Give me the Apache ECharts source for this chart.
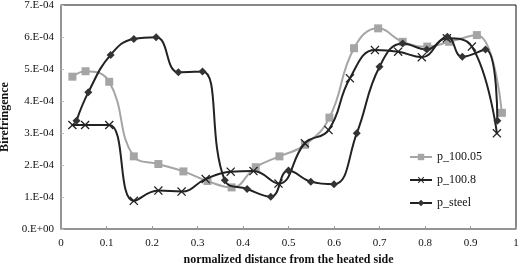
<!DOCTYPE html>
<html><head><meta charset="utf-8">
<script src="https://cdn.jsdelivr.net/npm/echarts@6/dist/echarts.min.js"></script>
<style>html,body{margin:0;padding:0;background:#fff}#c{width:522px;height:269px}</style>
</head><body><div id="c"></div>
<script>
const seriesNames = ['p_100.05', 'p_100.8', 'p_steel'];
const p100_05 = [[0.025,4.76],[0.054,4.93],[0.106,4.60],[0.160,2.27],[0.214,2.03],[0.269,1.80],[0.322,1.50],[0.375,1.30],[0.428,1.93],[0.480,2.27],[0.536,2.63],[0.590,3.48],[0.644,5.65],[0.697,6.27],[0.751,5.85],[0.805,5.70],[0.853,5.85],[0.914,6.06],[0.969,3.63]];
const p100_8 = [[0.025,3.25],[0.053,3.25],[0.106,3.25],[0.160,0.88],[0.214,1.20],[0.265,1.17],[0.318,1.56],[0.373,1.79],[0.423,1.81],[0.478,1.42],[0.536,2.68],[0.588,3.09],[0.635,4.71],[0.690,5.59],[0.741,5.54],[0.793,5.37],[0.848,5.96],[0.903,5.70],[0.958,2.99]];
const pSteel = [[0.034,3.38],[0.060,4.27],[0.109,5.44],[0.160,5.94],[0.209,5.99],[0.258,4.90],[0.311,4.92],[0.360,1.52],[0.409,1.25],[0.461,1.01],[0.500,1.83],[0.549,1.48],[0.600,1.40],[0.650,2.99],[0.700,5.07],[0.751,5.80],[0.804,5.61],[0.849,6.01],[0.882,5.38],[0.933,5.61],[0.959,3.38]];
const yScale = 1e-4;
const xTitle = 'normalized distance from the heated side';
const yTitle = 'Birefringence';

const toPts = a => a.map(p => [p[0], p[1] * yScale]);
const xMark = 'path://M0,1L1,0L5,4L9,0L10,1L6,5L10,9L9,10L5,6L1,10L0,9L4,5Z';
const serif = 'Liberation Serif';
const chart = echarts.init(document.getElementById('c'), null, {renderer: 'canvas'});
chart.setOption({
  animation: false,
  backgroundColor: '#fff',
  grid: {left: 61, right: 6, top: 5, bottom: 40, outerBoundsMode: 'none', containLabel: false,
         show: true, borderColor: '#111', borderWidth: 1, backgroundColor: 'transparent'},
  legend: {
    orient: 'vertical', left: 404, top: 146, itemGap: 11, itemWidth: 22, itemHeight: 8,
    textStyle: {fontFamily: serif, fontSize: 12, color: '#111'},
    data: seriesNames
  },
  xAxis: {
    type: 'value', min: 0, max: 1, interval: 0.1,
    name: xTitle, nameLocation: 'middle', nameGap: 25,
    nameTextStyle: {fontFamily: serif, fontWeight: 'bold', fontSize: 12, color: '#111'},
    axisLine: {lineStyle: {color: '#999', width: 1.5}},
    axisTick: {inside: true, length: 3, lineStyle: {color: '#999'}},
    axisLabel: {fontFamily: serif, fontSize: 11, color: '#111', margin: 9, formatter: v => (Math.round(v*10)/10).toString()},
    splitLine: {show: false}
  },
  yAxis: {
    type: 'value', min: 0, max: 7e-4, interval: 1e-4,
    name: yTitle, nameLocation: 'middle', nameGap: 44,
    nameTextStyle: {fontFamily: serif, fontWeight: 'bold', fontSize: 12, color: '#111'},
    axisLine: {show: true, lineStyle: {color: '#999', width: 1.5}},
    axisTick: {show: true, inside: true, length: 3, lineStyle: {color: '#bbb'}},
    axisLabel: {fontFamily: serif, fontSize: 11, color: '#111', margin: 7,
      formatter: v => { const n = Math.round(v / 1e-4); return n === 0 ? '0.E+00' : n + '.E-04'; }},
    splitLine: {show: false}
  },
  series: [
    {name: seriesNames[0], type: 'line', data: toPts(p100_05), smooth: 0.45, symbol: 'rect', symbolSize: 8,
     lineStyle: {color: '#a5a5a5', width: 2}, itemStyle: {color: '#a5a5a5'}, z: 2},
    {name: seriesNames[1], type: 'line', data: toPts(p100_8), smooth: 0.45, symbol: xMark, symbolSize: 9,
     lineStyle: {color: '#222', width: 2}, itemStyle: {color: '#222'}, z: 3},
    {name: seriesNames[2], type: 'line', data: toPts(pSteel), smooth: 0.45, symbol: 'diamond', symbolSize: 8,
     lineStyle: {color: '#222', width: 2}, itemStyle: {color: '#333'}, z: 4}
  ]
});
</script></body></html>
